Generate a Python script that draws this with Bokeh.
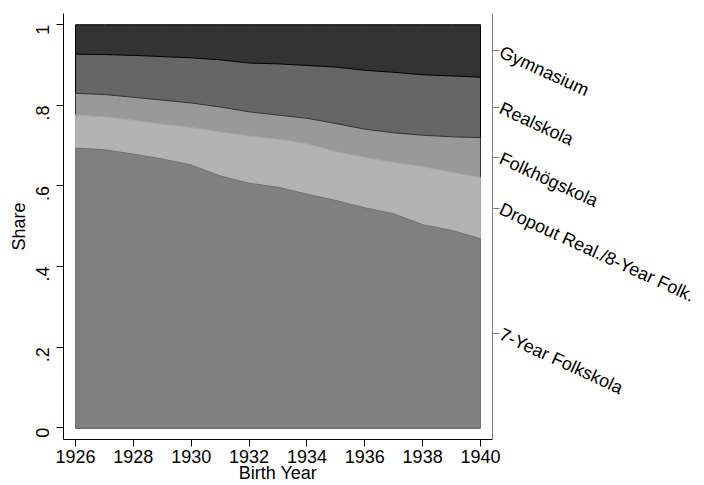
import math
import numpy as np
from bokeh.plotting import figure
from bokeh.models import Range1d, FixedTicker, LinearAxis
from bokeh.embed import file_html
from bokeh.resources import INLINE

years = list(range(1926, 1941))
# shares by school type (bottom to top)
seven_year = [0.694, 0.690, 0.679, 0.667, 0.652, 0.625, 0.607, 0.597, 0.580, 0.564, 0.546, 0.531, 0.504, 0.490, 0.469]
dropout = [0.082, 0.081, 0.084, 0.086, 0.093, 0.109, 0.117, 0.119, 0.125, 0.121, 0.125, 0.127, 0.144, 0.144, 0.152]
folkhog = [0.054, 0.056, 0.057, 0.060, 0.061, 0.062, 0.060, 0.060, 0.063, 0.070, 0.070, 0.074, 0.078, 0.088, 0.099]
realskola = [0.097, 0.099, 0.104, 0.108, 0.112, 0.117, 0.121, 0.127, 0.131, 0.140, 0.146, 0.150, 0.150, 0.151, 0.150]
gymnasium = [0.073, 0.074, 0.076, 0.079, 0.082, 0.087, 0.095, 0.097, 0.101, 0.105, 0.113, 0.118, 0.124, 0.127, 0.130]

series_names = ["7-Year Folkskola", "Dropout Real./8-Year Folk.", "Folkhögskola", "Realskola", "Gymnasium"]
series = [seven_year, dropout, folkhog, realskola, gymnasium]

y_ticks = [0, 0.2, 0.4, 0.6, 0.8, 1]
y_tick_labels = ["0", ".2", ".4", ".6", ".8", "1"]
x_ticks = [1926, 1928, 1930, 1932, 1934, 1936, 1938, 1940]
x_title = "Birth Year"
y_title = "Share"

fills = ["#808080", "#b3b3b3", "#999999", "#666666", "#333333"]
lines = ["#707070", "#a8a8a8", "#333333", "#000000", "#000000"]

FONT = "Liberation Sans"
FS = "18px"

p = figure(width=704, height=485,
           x_range=Range1d(1925.585, 1940.415), y_range=Range1d(-0.0289, 1.0279),
           output_backend="svg", toolbar_location=None,
           min_border_left=63, min_border_top=13, min_border_bottom=45, min_border_right=212)
p.outline_line_color = None
p.grid.visible = False
p.background_fill_color = "white"

arr = np.array(series)
cum = np.cumsum(arr, axis=0)

# draw from the tallest cumulative area downward
for k in range(len(series) - 1, -1, -1):
    top = list(cum[k])
    xs = [years[0]] + years + [years[-1]]
    ys = [0.0] + top + [0.0]
    p.patch(xs, ys, fill_color=fills[k], line_color=lines[k], line_width=1)

# left axis
ya = p.yaxis[0]
ya.ticker = FixedTicker(ticks=y_ticks)
ya.major_label_overrides = {t: l for t, l in zip(y_ticks, y_tick_labels)}
ya.major_label_orientation = math.pi / 2
ya.axis_label = y_title

# bottom axis
xa = p.xaxis[0]
xa.ticker = FixedTicker(ticks=x_ticks)
xa.axis_label = x_title

for ax in (ya, xa):
    ax.axis_line_color = "black"
    ax.major_tick_line_color = "black"
    ax.major_tick_out = 7
    ax.major_tick_in = 0
    ax.minor_tick_line_color = None
    ax.major_label_text_font = FONT
    ax.major_label_text_font_size = FS
    ax.major_label_text_color = "black"
    ax.axis_label_text_font = FONT
    ax.axis_label_text_font_size = FS
    ax.axis_label_text_font_style = "normal"
    ax.axis_label_text_color = "black"

ya.major_label_standoff = 14
ya.axis_label_standoff = -2
xa.major_label_standoff = 3
xa.axis_label_standoff = -3

# right axis with labels at band midpoints in last year
last_cum = cum[:, -1]
prev = np.concatenate([[0.0], last_cum[:-1]])
mids = [round(float(v), 4) for v in (last_cum + prev) / 2]
ra = LinearAxis(ticker=FixedTicker(ticks=mids))
ra.major_label_overrides = {m: n for m, n in zip(mids, series_names)}
ra.major_label_orientation = -0.43
ra.axis_line_color = "#7f7f7f"
ra.major_tick_line_color = "#7f7f7f"
ra.major_tick_out = 7
ra.major_tick_in = 0
ra.minor_tick_line_color = None
ra.major_label_text_font = FONT
ra.major_label_text_font_size = FS
ra.major_label_text_color = "black"
ra.major_label_standoff = 1
p.add_layout(ra, "right")

open("out.html", "w").write(file_html(p, INLINE))
